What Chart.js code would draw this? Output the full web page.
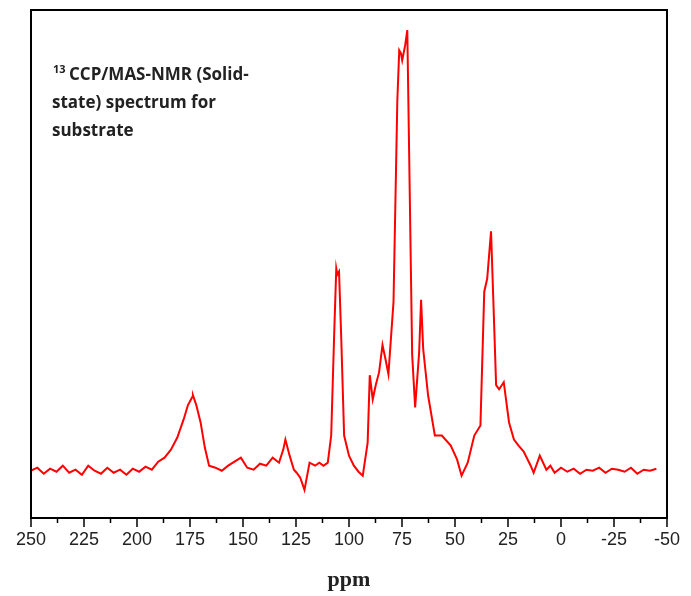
<!DOCTYPE html>
<html><head><meta charset="utf-8">
<script src="https://cdn.jsdelivr.net/npm/chart.js@4"></script>
<style>body{margin:0;background:#fff}#wrap{width:691px;height:596px}</style>
</head><body><div id="wrap"><canvas id="c"></canvas></div>
<script>
// chemical shift (ppm) and signal intensity
const ppm = [250,247,244,241,238,235,232,229,226,223,220,217,214,211,208,205,202,199,196,193,190,187,184,181,178,176,174,173.6,172,170,168,166,163,160,157,154,151,148,145,142,139,136,133,131,130,128,126,124.7,123,121,118.6,116,114,112,110,108.4,107,106,105.5,104.7,103.7,102.3,100,97.7,95.5,93.5,91.2,90.2,88.8,87.4,85.8,84.2,82.8,81.4,79,77.2,76.3,75.5,74.9,73.5,72.5,72,70.2,68.8,66.9,66,65,62.7,59.5,56.2,52,49,46.9,44,40.9,38,36.2,34.8,33,32,30.6,29.2,27,24.5,22.2,20,17.6,14.3,12.9,10,6.9,5,3,0,-3,-6,-9,-12,-15,-18,-21,-24,-27,-30,-33,-36,-39,-42,-45,-48,-50];
const intensity = [47,50,44,49,46,52,45,48,43,52,47,44,50,45,48,43,49,46,51,48,56,60,68,80,98,112,120,122,112,95,70,52,50,47,52,56,60,50,48,54,52,60,55,68,78,62,48,45,40,28,55,52,55,52,55,82,182,248,242,245,182,82,62,52,46,42,75,142,118,132,145,172,158,143,215,415,465,462,455,470,485,415,162,110,165,217,168,122,82,82,72,58,42,55,82,92,225,238,285,222,132,128,135,95,78,72,66,52,45,62,48,52,45,50,46,49,44,48,47,50,45,49,48,46,50,44,48,47,49];
const xTicks = [250,225,200,175,150,125,100,75,50,25,0,-25,-50];

const frame = {
  id: 'frame',
  afterDraw(ch) {
    const a = ch.chartArea, c = ch.ctx, sx = ch.scales.x;
    c.save();
    c.strokeStyle = '#000'; c.lineWidth = 2;
    c.strokeRect(a.left, a.top, a.right - a.left, a.bottom - a.top);
    c.lineWidth = 1.5;
    for (let v = 250; v >= -50; v -= 12.5) {
      const px = sx.getPixelForValue(v);
      const len = xTicks.includes(v) ? 9 : 5;
      c.beginPath(); c.moveTo(px, a.bottom); c.lineTo(px, a.bottom + len); c.stroke();
    }
    c.fillStyle = '#222';
    c.font = 'bold 17px "Open Sans", sans-serif';
    c.fillText('CCP/MAS-NMR (Solid-', 69, 80);
    c.fillText('state) spectrum for', 52, 108);
    c.fillText('substrate', 52, 136);
    c.font = 'bold 11px "Open Sans", sans-serif';
    c.fillText('13', 53, 73);
    c.restore();
  }
};

new Chart(document.getElementById('c'), {
  type: 'line',
  data: { datasets: [{
    data: ppm.map((p, i) => ({x: p, y: intensity[i]})),
    borderColor: '#ff0000', borderWidth: 2, pointRadius: 0, tension: 0, fill: false
  }]},
  options: {
    responsive: true, maintainAspectRatio: false, animation: false,
    layout: {padding: {left: 31, right: 8, top: 10, bottom: 0}},
    plugins: {legend: {display: false}, tooltip: {enabled: false}},
    scales: {
      x: {
        type: 'linear', reverse: true, min: -50, max: 250,
        afterBuildTicks: s => { s.ticks = xTicks.map(v => ({value: v})); },
        grid: {display: false, drawTicks: false},
        border: {display: false},
        ticks: {color: '#222', padding: 11, font: {family: '"Liberation Sans", Arial', size: 18}, maxRotation: 0, autoSkip: false},
        title: {display: true, text: 'ppm', color: '#222', padding: {top: 6, bottom: 2},
          font: {family: '"Liberation Serif", "Times New Roman", serif', size: 22, weight: 'bold'}}
      },
      y: {display: false, min: 0, max: 505}
    }
  },
  plugins: [frame]
});
</script></body></html>
